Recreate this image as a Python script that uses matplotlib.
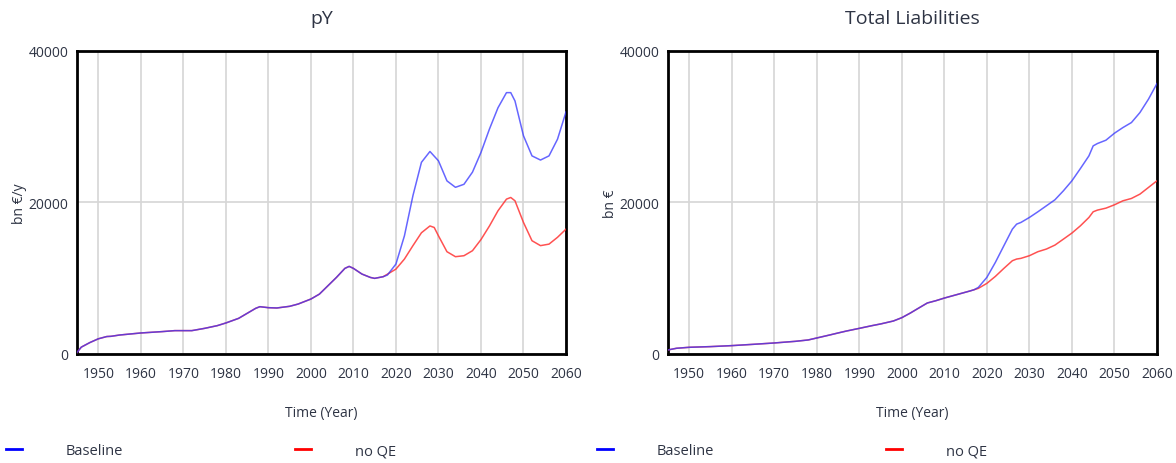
import matplotlib
matplotlib.use('Agg')
import matplotlib.pyplot as plt
from matplotlib.lines import Line2D

plt.rcParams['font.family'] = ['Open Sans', 'DejaVu Sans']

# pY (bn EUR / y): common history, then scenario branches
py_common_years = [1945, 1946, 1948, 1950, 1952, 1953, 1955, 1960, 1965, 1968, 1970,
                   1972, 1975, 1978, 1980, 1983, 1985, 1987, 1988, 1990, 1992, 1995,
                   1997, 2000, 2002, 2004, 2006, 2008, 2009, 2010, 2012, 2014, 2015, 2017]
py_common = [200, 900, 1500, 2000, 2300, 2330, 2500, 2770, 2950, 3080, 3080,
             3080, 3380, 3740, 4090, 4700, 5360, 6020, 6240, 6110, 6070, 6290,
             6590, 7250, 7900, 9000, 10100, 11300, 11560, 11300, 10550, 10100, 9980, 10200]

py_base_years = [2018, 2020, 2022, 2024, 2026, 2028, 2030, 2032, 2034, 2036, 2038, 2040,
                 2042, 2044, 2046, 2047, 2048, 2050, 2052, 2054, 2056, 2058, 2060]
py_base = [10420, 11870, 15600, 20900, 25300, 26730, 25500, 22850, 22000, 22400, 24000, 26600,
           29700, 32500, 34500, 34500, 33400, 28800, 26150, 25600, 26150, 28350, 31960]

py_noqe_years = [2020, 2022, 2024, 2026, 2028, 2029, 2030, 2032, 2034, 2036, 2038, 2040,
                 2042, 2044, 2046, 2047, 2048, 2050, 2052, 2054, 2056, 2058, 2060]
py_noqe = [11200, 12530, 14300, 16000, 16900, 16700, 15600, 13500, 12840, 12970, 13630, 15100,
           16900, 18900, 20440, 20660, 20220, 17360, 14950, 14300, 14500, 15400, 16480]

# Total liabilities (bn EUR)
tl_common_years = [1945, 1947, 1950, 1955, 1960, 1965, 1970, 1975, 1978, 1980, 1983, 1985,
                   1987, 1990, 1993, 1995, 1998, 2000, 2002, 2004, 2006, 2008, 2010, 2012,
                   2014, 2016, 2017]
tl_common = [530, 750, 880, 970, 1100, 1270, 1450, 1670, 1850, 2110, 2500, 2770,
             3030, 3380, 3740, 3960, 4350, 4790, 5400, 6070, 6730, 7030, 7380, 7690,
             8000, 8310, 8480]

tl_base_years = [2018, 2020, 2022, 2024, 2026, 2027, 2028, 2030, 2032, 2034, 2036, 2038, 2040,
                 2042, 2044, 2045, 2046, 2048, 2050, 2052, 2054, 2056, 2058, 2060]
tl_base = [8790, 10110, 12090, 14290, 16480, 17140, 17360, 18020, 18770, 19560, 20350, 21540, 22860,
           24480, 26150, 27470, 27780, 28220, 29140, 29890, 30550, 31870, 33630, 35690]

tl_noqe_years = [2018, 2020, 2022, 2024, 2026, 2027, 2028, 2030, 2032, 2034, 2036, 2038, 2040,
                 2042, 2044, 2045, 2046, 2048, 2050, 2052, 2054, 2056, 2058, 2060]
tl_noqe = [8660, 9320, 10240, 11300, 12310, 12530, 12620, 12970, 13500, 13850, 14370, 15160, 15960,
           16920, 18020, 18770, 18990, 19250, 19690, 20220, 20530, 21100, 21980, 22860]

x_ticks = list(range(1950, 2061, 10))
y_ticks = [0, 20000, 40000]

BLUE = '#3333ff'
RED = '#ff3333'
TEXT = '#2e3444'


def draw_panel(ax, title, ylabel, c_years, c_vals, b_years, b_vals, n_years, n_vals):
    ax.plot(c_years + n_years, c_vals + n_vals, color=RED, lw=1.1, alpha=0.85, zorder=3)
    ax.plot(c_years + b_years, c_vals + b_vals, color=BLUE, lw=1.1, alpha=0.75, zorder=4)
    ax.set_xlim(1945, 2060)
    ax.set_ylim(0, 40000)
    ax.set_xticks(x_ticks)
    ax.set_yticks(y_ticks)
    ax.tick_params(length=0, labelsize=10, colors=TEXT)
    ax.tick_params(axis='x', pad=9)
    ax.tick_params(axis='y', pad=6)
    ax.grid(True, color='#d6d6d6', lw=1.2, zorder=0)
    for s in ax.spines.values():
        s.set_linewidth(2)
        s.set_color('black')
    ax.set_title(title, fontsize=14, color=TEXT, pad=20)
    ax.set_ylabel(ylabel, fontsize=10, color=TEXT, labelpad=1)
    ax.set_xlabel('Time (Year)', fontsize=10, color=TEXT, labelpad=17)
    handles = [Line2D([], [], color='#0000ff', lw=2),
               Line2D([], [], color='#ff0000', lw=2)]
    ax.legend(handles, ['Baseline', 'no QE'], loc='center left', bbox_to_anchor=(-0.146, -0.32),
              ncol=2, frameon=False, fontsize=10.5, handlelength=1.1, handletextpad=3.0,
              columnspacing=11.8, labelcolor=TEXT, borderaxespad=0, borderpad=0)


fig = plt.figure(figsize=(11.76, 4.64), dpi=100)
ax1 = fig.add_axes([0.0655, 0.235, 0.4158, 0.653])
ax2 = fig.add_axes([0.568, 0.235, 0.4158, 0.653])

draw_panel(ax1, 'pY', 'bn €/y', py_common_years, py_common, py_base_years, py_base,
           py_noqe_years, py_noqe)
draw_panel(ax2, 'Total Liabilities', 'bn €', tl_common_years, tl_common, tl_base_years, tl_base,
           tl_noqe_years, tl_noqe)

fig.savefig('out.png', dpi=100, facecolor='white')
